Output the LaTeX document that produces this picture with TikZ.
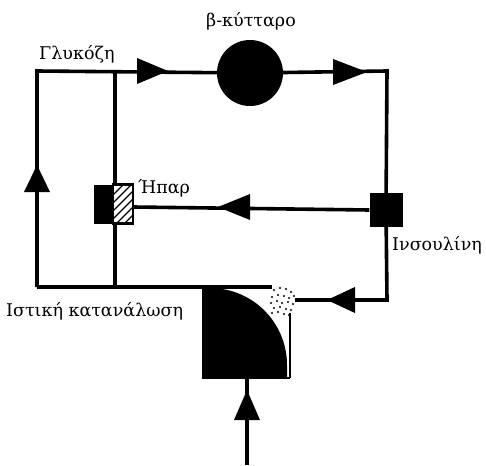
\documentclass[tikz,border=0pt]{standalone}
\usepackage{fontspec}
\setmainfont{DejaVu Serif}
\newcommand\mytri[4]{% x, y of tip, angle, length
  \fill[rotate around={#3:(#1pt,-#2pt)}] (#1pt,-#2pt) -- ++(-#4pt,13pt) -- ++(0,-26pt) -- cycle;}
\begin{document}
\begin{tikzpicture}[x=1pt,y=-1pt,
  wire/.style={line width=3.6pt,line join=miter},
  lbl/.style={font=\fontsize{17.5}{20}\selectfont,inner sep=0pt}]
\useasboundingbox (0,0) rectangle (486,465);
% nodes
\node[circle,fill=black,minimum size=66pt,inner sep=0pt] (beta) at (250,73) {};
\node[fill=black,minimum width=33pt,minimum height=34pt,inner sep=0pt] (ins) at (386,210) {};
\coordinate (tl) at (37,71);
\coordinate (tr) at (387,71);
\coordinate (bl) at (37,287);
\coordinate (it) at (115,71);
\coordinate (ib) at (115,287);
\coordinate (tt) at (272,287);
\coordinate (rb) at (387,300);
\coordinate (in) at (247,465);
% wires
\draw[wire] (bl) -- (tl) -- (beta);
\draw[wire] (beta) -- (tr) -- (ins);
\draw[wire] (ins) -- (rb) -- (295,300);
\draw[wire] (it) -- (ib);
\draw[wire] (bl) -- (tt);
\draw[wire] (ins.west) -- (133,207);
\draw[wire] (in) -- (247,378);
% liver
\node[fill=black,minimum width=20pt,minimum height=39pt,inner sep=0pt] (livb) at (104,204) {};
\node[draw,line width=1.8pt,fill=white,minimum width=19pt,minimum height=37.5pt,inner sep=0pt] (livh) at (123,204) {};
\begin{scope}
  \clip (livh.south west) rectangle (livh.north east);
  \foreach \k in {-30,-22,...,30} \draw[line width=1.3pt] (113+\k,225) -- (113+\k+45,180);
\end{scope}
\draw[line width=1.8pt] (livh.south west) rectangle (livh.north east);
% tissue
\draw[line width=1.6pt] (290,313) -- (290,378);
\fill (202,378) -- (202,288) -- (210,288) arc[start angle=-90,end angle=0,x radius=77,y radius=77] -- (287,378) -- cycle;
\draw[line width=1.6pt] (202,378) -- (290,378);
\node[minimum width=24pt,minimum height=25pt,inner sep=0pt] (dotp) at (283,300) {};
\foreach \p in {(274,290),(280,288),(286,289),(291,292),(272,297),(278,295),(284,296),(289,298),(294,296),
  (271,303),(277,301),(282,303),(288,302),(293,304),(274,308),(280,307),(286,309),(291,310),(272,313),(278,312),(284,314),(289,315)}
  \fill \p circle (1.2pt);
% arrows
\mytri{168}{71}{0}{31}
\mytri{367}{72}{0}{34}
\mytri{218}{207}{180}{32}
\mytri{327}{300}{180}{28}
\mytri{37}{165}{90}{27}
\mytri{247}{390}{90}{30}
% labels
\node[lbl,anchor=base] at (251,27) {β-κύτταρο};
\node[lbl,anchor=base west] at (39,60) {Γλυκόζη};
\node[lbl,anchor=base west] at (138,193) {Ήπαρ};
\node[lbl,anchor=base west] at (392,250) {Ινσουλίνη};
\node[lbl,anchor=base west] at (6,316) {Ιστική κατανάλωση};
\end{tikzpicture}
\end{document}
